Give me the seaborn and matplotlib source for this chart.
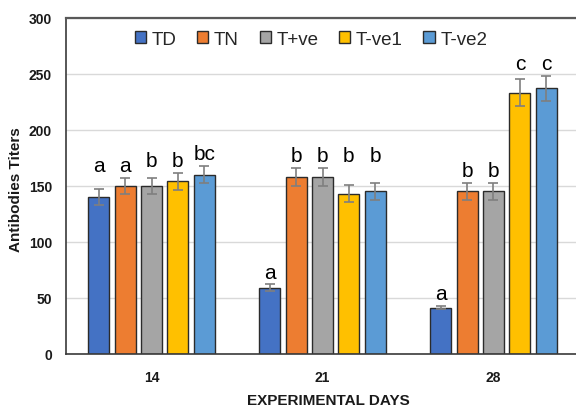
import matplotlib
matplotlib.use("Agg")
import matplotlib.pyplot as plt
from matplotlib.patches import Patch
import seaborn as sns
import pandas as pd
import numpy as np

# ---- data ----
days = ["14", "21", "28"]
groups = ["TD", "TN", "T+ve", "T-ve1", "T-ve2"]
colors = ["#4472C4", "#ED7D31", "#A5A5A5", "#FFC000", "#5B9BD5"]

values = {
    "TD":    [140, 59, 41],
    "TN":    [150, 158, 145],
    "T+ve":  [150, 158, 145],
    "T-ve1": [154, 143, 233],
    "T-ve2": [160, 145, 237],
}
errors = {
    "TD":    [7, 3, 1.5],
    "TN":    [7, 8, 7.5],
    "T+ve":  [7, 8, 7.5],
    "T-ve1": [7.5, 7.5, 12],
    "T-ve2": [8, 7.5, 11],
}
letters = {
    "14": ["a", "a", "b", "b", "bc"],
    "21": ["a", "b", "b", "b", "b"],
    "28": ["a", "b", "b", "c", "c"],
}

rows = []
for g in groups:
    for i, d in enumerate(days):
        rows.append({"day": d, "group": g, "value": values[g][i], "err": errors[g][i]})
df = pd.DataFrame(rows)

sns.set_theme(style="white")
plt.rcParams["font.family"] = ["Liberation Sans", "DejaVu Sans"]

fig = plt.figure(figsize=(5.76, 4.14), dpi=100)
ax = fig.add_axes([0.1146, 0.1432, 0.8906, 0.8116])

sns.barplot(data=df, x="day", y="value", hue="group", order=days, hue_order=groups,
            palette=colors, saturation=1, width=0.77, gap=0.2, errorbar=None,
            edgecolor="#2b2b2b", linewidth=1.0, ax=ax, legend=False, zorder=2)

# error bars + letters
tops = {}
for gi, (g, cont) in enumerate(zip(groups, ax.containers)):
    for di, bar in enumerate(cont):
        xc = bar.get_x() + bar.get_width() / 2
        h = bar.get_height()
        e = errors[g][di]
        ax.errorbar(xc, h, yerr=e, color="#7f7f7f", lw=1.2, capsize=3.5,
                    capthick=1.2, zorder=3)
        tops[(days[di], gi)] = (xc, h + e)

for d in days:
    labs = letters[d]
    gi = 0
    while gi < len(labs):
        gj = gi
        while gj + 1 < len(labs) and labs[gj + 1] == labs[gi]:
            gj += 1
        ymax = max(tops[(d, k)][1] for k in range(gi, gj + 1))
        for k in range(gi, gj + 1):
            ax.text(tops[(d, k)][0], ymax + 6, labs[k], ha="center", va="baseline",
                    fontsize=15, color="black", zorder=4)
        gi = gj + 1

ax.set_ylim(0, 300)
ax.set_xlim(-0.5, 2.5)
ax.set_yticks([0, 50, 100, 150, 200, 250, 300])
ax.yaxis.grid(True, color="#d9d9d9", lw=1.0)
ax.xaxis.grid(False)
ax.set_axisbelow(True)

ax.tick_params(axis="both", length=0, labelsize=10)
ax.tick_params(axis="y", pad=10)
ax.tick_params(axis="x", pad=12)
for lab in ax.get_xticklabels() + ax.get_yticklabels():
    lab.set_fontweight("bold")
    lab.set_color("#1a1a1a")

ax.set_ylabel("Antibodies Titers", fontsize=11, fontweight="bold", color="#1a1a1a")
ax.yaxis.set_label_coords(-0.0838, 0.49)
ax.set_xlabel("EXPERIMENTAL DAYS", fontsize=11, fontweight="bold", color="#1a1a1a")
ax.xaxis.set_label_coords(0.511, -0.118)

for s in ["left", "bottom"]:
    ax.spines[s].set_color("#3a3a3a")
    ax.spines[s].set_linewidth(1.2)
ax.spines["top"].set_color("#595959")
ax.spines["top"].set_linewidth(1.6)
ax.spines["right"].set_visible(False)

handles = [Patch(facecolor=c, edgecolor="#2b2b2b", linewidth=1.0, label=g)
           for g, c in zip(groups, colors)]
ax.legend(handles=handles, loc="center", bbox_to_anchor=(0.54, 0.903),
          bbox_transform=fig.transFigure, ncol=5, frameon=False, fontsize=13.5,
          handlelength=0.6, handleheight=0.6, handletextpad=0.3, columnspacing=1.1)

fig.savefig("out.png", dpi=100)
